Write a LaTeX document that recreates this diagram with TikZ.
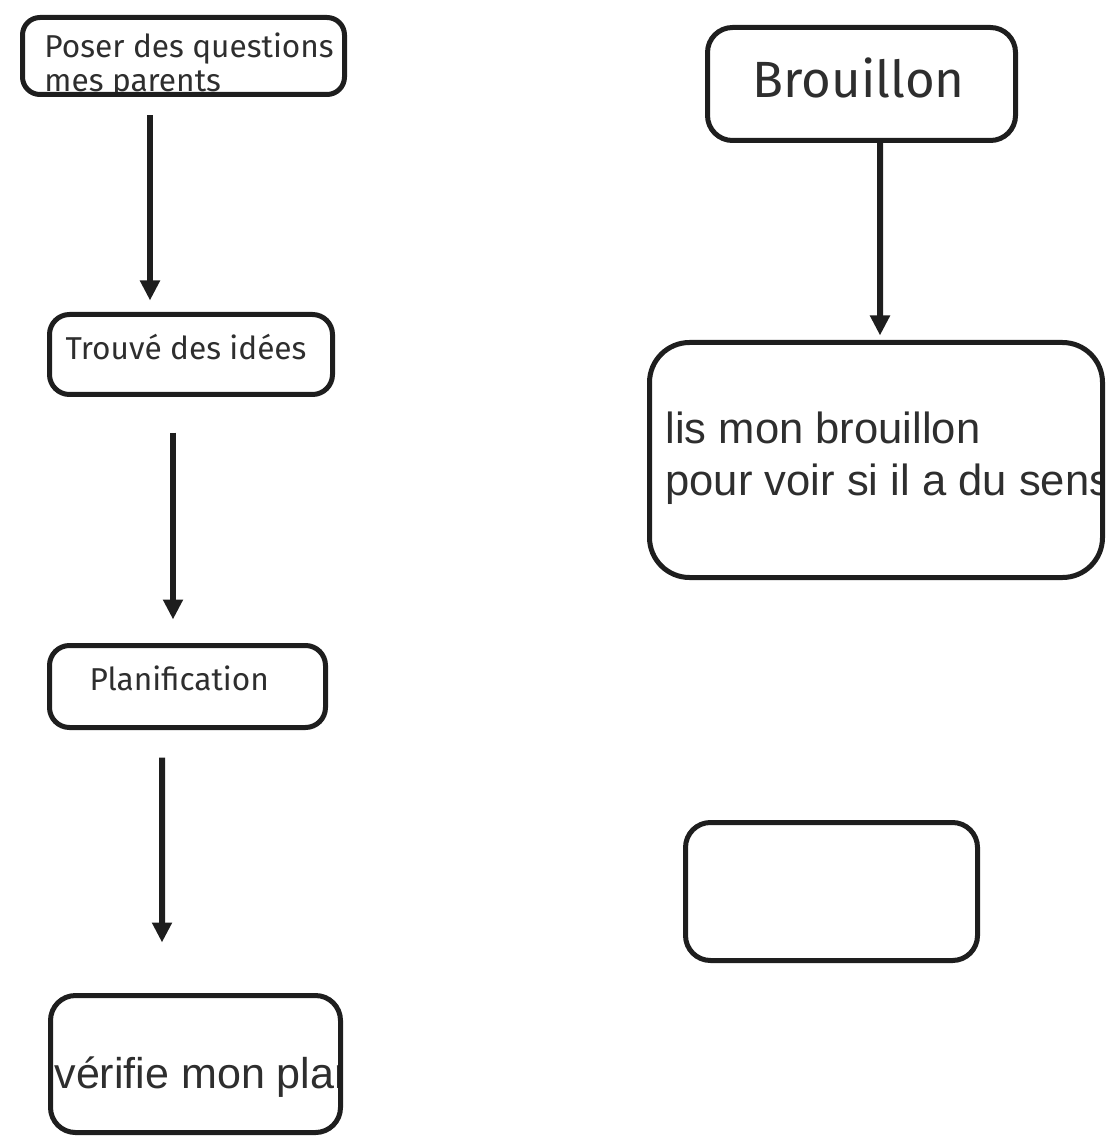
\documentclass[tikz,border=0pt]{standalone}
\usepackage{fontspec}
\usepackage{tikz}
\usetikzlibrary{arrows.meta}
\newfontfamily\comicfont{Fira Sans}
\newfontfamily\arialfont{Liberation Sans}
\definecolor{trait}{HTML}{1E1E1E}
\definecolor{encre}{HTML}{2E2E2E}

\begin{document}
\begin{tikzpicture}[
        boite/.style = {draw = trait, line width = 1mm, inner sep = 0pt},
        ecrit/.style n args = {4}{path picture = {
            \node[encre, draw = none, sharp corners, minimum width = 0pt, minimum height = 0pt,
                anchor = base west, inner sep = 0pt, align = left, font = #3]
                at ([xshift = #1, yshift = #2]path picture bounding box.north west) {#4};}},
        fleche/.style = {trait, line width = 1.2mm, -{Triangle[width = .38cm, length = .4cm]}}
    ]
        \useasboundingbox (0, 0) rectangle (22.12, -22.76);
        % colonne de gauche
        \node[boite, rounded corners = .35cm, minimum width = 6.44cm, minimum height = 1.54cm,
            ecrit = {.39cm}{-1.49cm}{\comicfont\fontsize{18}{19.8}\selectfont}{Poser des questions à\\mes parents}]
            (questions) at (3.67, -1.12) {};
        \node[boite, rounded corners = .4cm, minimum width = 5.66cm, minimum height = 1.6cm,
            ecrit = {.27cm}{-.91cm}{\comicfont\fontsize{18}{20}\selectfont}{Trouvé des idées}]
            (idees) at (3.82, -7.09) {};
        \node[boite, rounded corners = .4cm, minimum width = 5.52cm, minimum height = 1.64cm,
            ecrit = {.75cm}{-.89cm}{\comicfont\fontsize{18}{20}\selectfont}{Planification}]
            (planif) at (3.75, -13.73) {};
        \node[boite, rounded corners = .5cm, minimum width = 5.8cm, minimum height = 2.74cm,
            ecrit = {.03cm}{-1.85cm}{\arialfont\fontsize{24.5}{29}\selectfont}{vérifie mon plan}]
            (verifie) at (3.91, -21.28) {};
        % colonne de droite
        \node[boite, rounded corners = .5cm, minimum width = 6.16cm, minimum height = 2.26cm,
            ecrit = {.85cm}{-1.41cm}{\comicfont\fontsize{29}{32}\selectfont}{Brouillon}]
            (brouillon) at (17.23, -1.68) {};
        \node[boite, rounded corners = .8cm, minimum width = 9.06cm, minimum height = 4.7cm,
            ecrit = {.27cm}{-3.05cm}{\arialfont\fontsize{24.8}{29.5}\selectfont}{lis mon brouillon\\pour voir si il a du sens}]
            (relis) at (17.52, -9.2) {};
        \node[boite, rounded corners = .5cm, minimum width = 5.84cm, minimum height = 2.76cm]
            (vide) at (16.63, -17.83) {};
        % fleches
        \draw[fleche] ([xshift = -.67cm, yshift = -.37cm]questions.south) -- ([xshift = -.82cm, yshift = .23cm]idees.north);
        \draw[fleche] ([xshift = -.36cm, yshift = -.71cm]idees.south) -- ([xshift = -.29cm, yshift = .47cm]planif.north);
        \draw[fleche] ([xshift = -.51cm, yshift = -.55cm]planif.south) -- ([xshift = -.67cm, yshift = 1.01cm]verifie.north);
        \draw[fleche] ([xshift = .37cm]brouillon.south) -- ([xshift = .08cm, yshift = .09cm]relis.north);
\end{tikzpicture}
\end{document}
